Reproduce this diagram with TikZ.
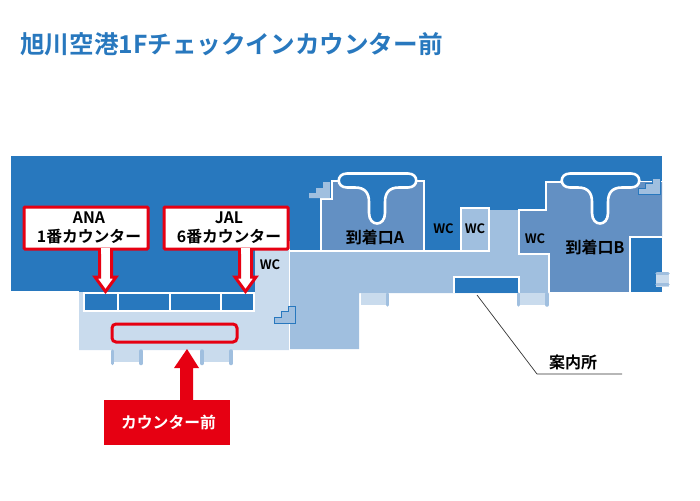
\documentclass[tikz,border=0pt]{standalone}
\usepackage{fontspec}
\usepackage{tikz}
\usetikzlibrary{positioning}
\newfontfamily\cjk{Noto Sans CJK JP Bold}
\definecolor{floorblue}{HTML}{2878BE}
\definecolor{hallblue}{HTML}{A0BFDF}
\definecolor{paleblue}{HTML}{C9DBED}
\definecolor{gateblue}{HTML}{6390C3}
\definecolor{markred}{HTML}{E60012}
\tikzset{
  room/.style={draw=white, line width=1.3pt},
  doorbar/.style={line width=3.5pt, line cap=round, draw=hallblue},
  redarrow/.style={fill=white, draw=markred, line width=3pt, miter limit=4},
  callout/.style={fill=white, draw=markred, line width=3pt, rounded corners=1pt, minimum width=124pt, minimum height=42pt, align=center, font=\cjk\fontsize{15.8}{19.5}\selectfont, inner sep=0pt},
  wclabel/.style={font=\cjk\fontsize{13}{14}\selectfont},
  gatelabel/.style={font=\cjk\fontsize{16}{17}\selectfont}
}
\begin{document}
\begin{tikzpicture}[x=1pt, y=-1pt]
  \useasboundingbox (0,0) rectangle (700,500);
  \node[anchor=west, text=floorblue, inner sep=0pt, font=\cjk\fontsize{24.6}{25}\selectfont] (title) at (20,44) {旭川空港1Fチェックインカウンター前};
  % floor plan
  \fill[floorblue] (11,156) rectangle (662,291);
  \fill[floorblue] (79,291) rectangle (255,293);
  \fill[paleblue] (79,292) -- (255,292) -- (255,250) -- (289,250) -- (289,350) -- (79,350) -- cycle;
  \fill[hallblue] (290,251) -- (489,251) -- (489,210) -- (519,210) -- (519,254) -- (548,254) -- (548,293) -- (359,293) -- (359,349) -- (290,349) -- cycle;
  \draw[white, line width=1.3pt] (289.5,241) -- (289.5,350);
  \draw[white, line width=1.3pt] (289,251) -- (461,251);
  \draw[room, fill=gateblue] (332,181) -- (424,181) -- (424,251) -- (321,251) -- (321,199) -- (332,199) -- cycle;
  \draw[room, fill=hallblue] (461,251) -- (461,208) -- (489,208) -- (489,251) -- cycle;
  \draw[room, fill=gateblue] (662,182) -- (546,182) -- (546,210) -- (519,210) -- (519,254) -- (549,254) -- (549,293) -- (630,293) -- (630,237) -- (662,237);
  \fill[gateblue] (630,237) rectangle (662,182);
  \draw[room, fill=floorblue] (662,237) -- (630,237) -- (630,293) -- (662,293);
  % carousels
  \foreach \bx/\bname in {339/beltA, 562/beltB}{
    \begin{scope}[xshift=\bx pt]
      \draw[room, line width=2.6pt, fill=floorblue] (8,173.5) -- (69,173.5) .. controls (80,173.5) and (80,187.5) .. (69,187.5) -- (60,187.5) .. controls (50,187.5) and (46,193) .. (46,202) -- (46,213) .. controls (46,227) and (30,227) .. (30,213) -- (30,202) .. controls (30,193) and (26,187.5) .. (16,187.5) -- (8,187.5) .. controls (-3,187.5) and (-3,173.5) .. (8,173.5) -- cycle;
    \end{scope}
  }
  % counters
  \draw[white, line width=1.5pt, fill=floorblue] (84,293) rectangle (254,311);
  \foreach \cx in {118,170,221}{\draw[white, line width=1.5pt] (\cx,293) -- (\cx,311);}
  \draw[room, fill=floorblue] (454,293) -- (454,277) -- (519,277) -- (519,293);
  % stairs
  \draw[floorblue, fill=hallblue, line width=.6pt] (274,323) -- (274,317) -- (281,317) -- (281,311) -- (288,311) -- (288,306) -- (295,306) -- (295,323) -- cycle;
  \fill[hallblue] (309,198) -- (309,193) -- (316,193) -- (316,188) -- (323,188) -- (323,182) -- (330,182) -- (330,198) -- cycle;
  \draw[floorblue, fill=hallblue, line width=.6pt] (638,194) -- (638,188) -- (645,188) -- (645,183) -- (652,183) -- (652,178) -- (660,178) -- (660,194) -- cycle;
  % doors
  \fill[paleblue] (112,350) rectangle (140,362);
  \fill[paleblue] (201,350) rectangle (232,362);
  \fill[paleblue] (361,293) rectangle (388,305);
  \fill[paleblue] (518,293) rectangle (547,305);
  \fill[paleblue] (656,273) rectangle (669,287);
  \foreach \dx in {112.5,141,202,231}{\draw[doorbar] (\dx,351) -- (\dx,363.5);}
  \draw[doorbar] (387.5,294) -- (387.5,305);
  \draw[doorbar] (518.5,294) -- (518.5,305);
  \draw[doorbar] (547,294) -- (547,305);
  \draw[doorbar] (657,273.5) -- (668,273.5);
  \draw[doorbar] (657,284.5) -- (668,284.5);
  % labels
  \node[wclabel] (wcleft) at (270,264.5) {WC};
  \node[wclabel] (wcmid) at (443.5,229) {WC};
  \node[wclabel] (wcbox) at (475,229) {WC};
  \node[wclabel] (wcright) at (535,239) {WC};
  \node[gatelabel] (gateA) at (375,237) {到着口A};
  \node[gatelabel] (gateB) at (595,247) {到着口B};
  % information desk
  \node[font=\cjk\fontsize{16}{16}\selectfont, inner sep=0pt] (infolabel) at (573,362) {案内所};
  \coordinate (infotip) at (477,295);
  \coordinate (infobend) at (537,374);
  \coordinate (infoend) at (622,374);
  \draw[black!80, line width=.7pt] (infotip) -- (infobend) -- (infoend);
  % red marks
  \node[callout] (ana) at (86,228) {\hspace*{6pt}ANA\\\hspace*{6pt}1番カウンター};
  \node[callout] (jal) at (226,228) {\hspace*{6pt}JAL\\\hspace*{6pt}6番カウンター};
  \draw[redarrow] (99.5,250) -- (99.5,277) -- (95,277) -- (105.5,291.5) -- (116,277) -- (111.5,277) -- (111.5,250);
  \draw[redarrow] (239.5,250) -- (239.5,277) -- (235,277) -- (245.5,291.5) -- (256,277) -- (251.5,277) -- (251.5,250);
  \fill[white] (101,248) rectangle (110,254);
  \fill[white] (241,248) rectangle (250,254);
  \draw[markred, line width=3pt, rounded corners=4pt] (112,324) rectangle (237,342);
  \node[fill=markred, text=white, minimum width=126pt, minimum height=45pt, inner sep=0pt, font=\cjk\fontsize{15.8}{16}\selectfont] (front) at (167,422.5) {\hspace{3pt}カウンター前};
  \fill[markred] (front.north -| 180,400) -- (180,368) -- (174,368) -- (187,349) -- (199,368) -- (193,368) -- (193,400) -- cycle;
\end{tikzpicture}
\end{document}
